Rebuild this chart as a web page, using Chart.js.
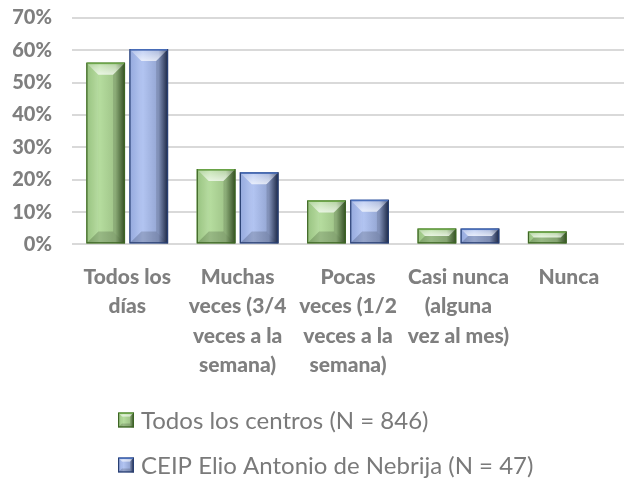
<!DOCTYPE html>
<html>
<head>
<meta charset="utf-8">
<script src="https://cdn.jsdelivr.net/npm/chart.js@4"></script>
<style>
  html, body { margin: 0; padding: 0; background: #fff; }
  #wrap { width: 624px; height: 483px; }
</style>
</head>
<body>
<div id="wrap"><canvas id="chart"></canvas></div>
<script>
const categories = [
  ["Todos los", "días"],
  ["Muchas", "veces (3/4", "veces a la", "semana)"],
  ["Pocas", "veces (1/2", "veces a la", "semana)"],
  ["Casi nunca", "(alguna", "vez al mes)"],
  ["Nunca"]
];
const seriesNames = ["Todos los centros (N = 846)", "CEIP Elio Antonio de Nebrija (N = 47)"];
const todosCentros = [56.2, 23.3, 13.6, 4.9, 4.0];
const ceipNebrija = [60.4, 22.3, 13.8, 4.9, 0];
const yTicks = [0, 10, 20, 30, 40, 50, 60, 70];

// bevel palettes (green / blue): face gradient stops + rim colours
const palettes = [
  { stops: ["#92bf78", "#b5dc9e", "#9fc488", "#3a5828"], top: "#6da64a", border: "#3d6424" },
  { stops: ["#8ea4dc", "#b2c4f1", "#93a5d2", "#1e2b4c"], top: "#4a6fba", border: "#283f72" }
];

function bevel(ctx, l, t, r, b, pal, maxD) {
  const w = r - l, h = b - t;
  if (h < 1 || w < 1) return;
  const d = Math.min(maxD, w / 2.8, h / 2);
  const g = ctx.createLinearGradient(l, 0, r, 0);
  g.addColorStop(0, pal.stops[0]);
  g.addColorStop(0.35, pal.stops[1]);
  g.addColorStop(0.75, pal.stops[2]);
  g.addColorStop(1, pal.stops[3]);
  ctx.save();
  ctx.fillStyle = g;
  ctx.fillRect(l, t, w, h);
  const poly = (pts, c) => {
    ctx.beginPath();
    ctx.moveTo(pts[0][0], pts[0][1]);
    for (let i = 1; i < pts.length; i++) ctx.lineTo(pts[i][0], pts[i][1]);
    ctx.closePath();
    ctx.fillStyle = c;
    ctx.fill();
  };
  // top facet: lighter towards the inner edge
  const tg = ctx.createLinearGradient(0, t, 0, t + d);
  tg.addColorStop(0, "rgba(255,255,255,0.2)");
  tg.addColorStop(1, "rgba(255,255,255,0.7)");
  poly([[l, t], [r, t], [r - d, t + d], [l + d, t + d]], tg);
  poly([[l, b], [r, b], [r - d, b - d], [l + d, b - d]], "rgba(0,0,0,0.16)");
  poly([[r, t], [r - d, t + d], [r - d, b - d], [r, b]], "rgba(0,0,0,0.12)");
  poly([[l, t], [l + d, t + d], [l + d, b - d], [l, b]], "rgba(255,255,255,0.06)");
  ctx.strokeStyle = pal.border;
  ctx.lineWidth = 1.2;
  ctx.strokeRect(l + 0.6, t + 0.6, w - 1.2, h - 1.2);
  ctx.fillStyle = pal.top;
  ctx.fillRect(l + 1, t, w - 2, 1.5);
  ctx.restore();
}

const bevelPlugin = {
  id: "bevel",
  afterDatasetsDraw(chart) {
    const ctx = chart.ctx;
    chart.data.datasets.forEach((ds, i) => {
      chart.getDatasetMeta(i).data.forEach(el => {
        const p = el.getProps(["x", "y", "base", "width"], true);
        bevel(ctx, p.x - p.width / 2, p.y, p.x + p.width / 2, p.base, palettes[i], 12);
      });
    });
  },
  afterDraw(chart) {
    const ctx = chart.ctx;
    const rows = [420, 465];
    ctx.save();
    ctx.font = "24px Lato";
    ctx.fillStyle = "#7a7a7a";
    ctx.textBaseline = "middle";
    seriesNames.forEach((name, i) => {
      bevel(ctx, 118, rows[i] - 7.5, 134, rows[i] + 7.5, palettes[i], 4);
      ctx.fillText(name, 141, rows[i] + 1);
    });
    ctx.restore();
  }
};

new Chart(document.getElementById("chart"), {
  type: "bar",
  data: {
    labels: categories,
    datasets: [
      { label: seriesNames[0], data: todosCentros, backgroundColor: "#a9d08e" },
      { label: seriesNames[1], data: ceipNebrija, backgroundColor: "#a4b8e6" }
    ]
  },
  options: {
    responsive: true,
    maintainAspectRatio: false,
    animation: false,
    layout: { padding: { top: 18, right: 0, bottom: 93, left: 0 } },
    datasets: { bar: { categoryPercentage: 0.78, barPercentage: 0.9 } },
    plugins: { legend: { display: false }, tooltip: { enabled: false } },
    scales: {
      y: {
        min: 0, max: 70,
        afterBuildTicks(scale) { scale.ticks = yTicks.map(v => ({ value: v })); },
        afterFit(scale) {
          scale.width = 72;
          scale.paddingTop = 0;
          scale.paddingBottom = 0;
        },
        ticks: {
          callback: v => v + "%",
          color: "#7f7f7f",
          padding: 20,
          font: { family: "Lato", size: 20, weight: 900, lineHeight: 1 }
        },
        grid: { color: "#d9d9d9", lineWidth: 2, drawTicks: false },
        border: { display: false }
      },
      x: {
        grid: { display: false },
        border: { display: false },
        ticks: {
          maxRotation: 0, autoSkip: false,
          color: "#7f7f7f",
          padding: 10,
          font: { family: "Lato", size: 21, weight: 900, lineHeight: 1.4 }
        }
      }
    }
  },
  plugins: [bevelPlugin]
});
</script>
</body>
</html>
